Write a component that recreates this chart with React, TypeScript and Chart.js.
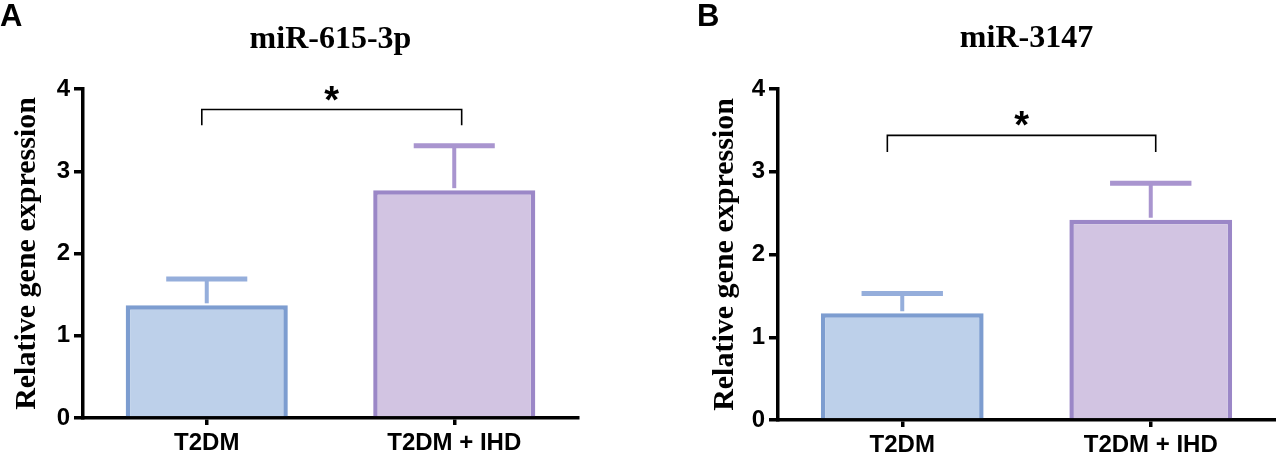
import { useEffect, useRef } from "react";
import { Chart, registerables, type Plugin } from "chart.js";

Chart.register(...registerables);

// ── Data ────────────────────────────────────────────────────────────────────
const groups = ["T2DM", "T2DM + IHD"];
const yTicks = [0, 1, 2, 3, 4];

const mean615 = [1.37, 2.77];
const sem615 = [0.32, 0.54];
const bracket615 = [3.75, 3.56]; // bar level, leg end
const bracketX615 = [-0.02, 1.03]; // category positions of the legs

const mean3147 = [1.29, 2.42];
const sem3147 = [0.24, 0.44];
const bracket3147 = [3.44, 3.24];
const bracketX3147 = [-0.06, 1.02];

// ── Styling ─────────────────────────────────────────────────────────────────
const FILL = ["#bdd0ea", "#d2c4e2"];
const EDGE = ["#7d9dd0", "#9b87c7"];
const ERR = ["#95aedb", "#a995cf"];
const SANS = "Liberation Sans";
const SERIF = "Liberation Serif";
const H = 457;

interface PanelProps {
  letter: string;
  title: string;
  means: number[];
  sems: number[];
  bracket: number[];
  bracketX: number[];
  left: number;
  width: number;
  axisWidth: number;
  bottom: number;
  padRight: number;
  yTitlePad: number;
  titleBase: number;
}

const annotate: Plugin = {
  id: "annotate",
  afterDatasetsDraw(chart, _args, opts: any) {
    const { ctx } = chart;
    const x = chart.scales.x;
    const y = chart.scales.y;
    const meta = chart.getDatasetMeta(0);
    ctx.save();
    // error bars (upper only)
    opts.means.forEach((m: number, i: number) => {
      const bar: any = meta.data[i];
      const cx = x.getPixelForValue(i);
      const y0 = y.getPixelForValue(m);
      const y1 = y.getPixelForValue(m + opts.sems[i]);
      const half = bar.width / 4;
      ctx.strokeStyle = ERR[i];
      ctx.lineWidth = 4;
      ctx.beginPath();
      ctx.moveTo(cx, y0 - 2);
      ctx.lineTo(cx, y1);
      ctx.stroke();
      ctx.lineWidth = 5;
      ctx.beginPath();
      ctx.moveTo(cx - half, y1);
      ctx.lineTo(cx + half, y1);
      ctx.stroke();
    });
    // significance bracket
    const bx0 = x.getPixelForValue(opts.bracketX[0]);
    const bx1 = x.getPixelForValue(opts.bracketX[1]);
    const by = y.getPixelForValue(opts.bracket[0]);
    const bl = y.getPixelForValue(opts.bracket[1]);
    ctx.strokeStyle = "#000";
    ctx.lineWidth = 1.6;
    ctx.beginPath();
    ctx.moveTo(bx0, bl);
    ctx.lineTo(bx0, by);
    ctx.lineTo(bx1, by);
    ctx.lineTo(bx1, bl);
    ctx.stroke();
    ctx.fillStyle = "#000";
    ctx.font = `bold 38px "${SANS}"`;
    ctx.textAlign = "center";
    ctx.textBaseline = "alphabetic";
    ctx.fillText("*", (bx0 + bx1) / 2, by + 3);
    ctx.restore();
  },
  afterDraw(chart, _args, opts: any) {
    const { ctx, chartArea } = chart;
    ctx.save();
    ctx.fillStyle = "#000";
    ctx.textBaseline = "alphabetic";
    ctx.textAlign = "center";
    ctx.font = `bold 32px "${SERIF}"`;
    ctx.fillText(opts.title, (chartArea.left + chartArea.right) / 2, opts.titleBase);
    ctx.textAlign = "left";
    ctx.font = `bold 31px "${SANS}"`;
    ctx.fillText(opts.letter, opts.letterX, 26);
    ctx.restore();
  },
};

function Panel(p: PanelProps) {
  const canvasRef = useRef<HTMLCanvasElement>(null);

  useEffect(() => {
    const canvas = canvasRef.current;
    if (!canvas) return;
    const tickFont = { family: SANS, size: 24, weight: "bold" as const };

    const chart = new Chart(canvas, {
      type: "bar",
      plugins: [annotate],
      data: {
        labels: groups,
        datasets: [
          {
            data: p.means,
            backgroundColor: FILL,
            borderColor: EDGE,
            borderWidth: 4.5,
            borderSkipped: "start",
            categoryPercentage: 1,
            barPercentage: 0.655,
          },
        ],
      },
      options: {
        responsive: false,
        animation: false,
        events: [],
        layout: { padding: { left: 0, right: p.padRight, top: 89, bottom: 0 } },
        plugins: {
          legend: { display: false },
          tooltip: { enabled: false },
          annotate: {
            means: p.means,
            sems: p.sems,
            bracket: p.bracket,
            bracketX: p.bracketX,
            title: p.title,
            letter: p.letter,
            letterX: p.left === 0 ? 0 : 7,
            titleBase: p.titleBase,
          },
        } as any,
        scales: {
          x: {
            type: "category",
            offset: true,
            z: 1,
            grid: {
              offset: false,
              drawOnChartArea: false,
              drawTicks: true,
              tickLength: 7,
              color: "#000",
              lineWidth: 3.5,
            },
            border: { display: true, color: "#000", width: 3.5 },
            ticks: { color: "#000", font: { family: SANS, size: 24, weight: "bold" }, padding: 4 },
            afterFit: (s: any) => { s.height = H - p.bottom; },
          },
          y: {
            min: 0,
            max: 4,
            z: 1,
            afterBuildTicks: (s: any) => { s.ticks = yTicks.map((v) => ({ value: v })); },
            grid: {
              drawOnChartArea: false,
              drawTicks: true,
              tickLength: 9,
              color: "#000",
              lineWidth: 3.5,
            },
            border: { display: true, color: "#000", width: 3.5 },
            ticks: { color: "#000", font: tickFont, padding: 4 },
            title: {
              display: true,
              text: "Relative gene expression",
              color: "#000",
              font: { family: SERIF, size: 30, weight: "bold", lineHeight: 1 },
              padding: { top: p.yTitlePad, bottom: 0 },
            },
            afterFit: (s: any) => { s.width = p.axisWidth; },
          },
        },
      },
    });

    return () => { chart.destroy(); };
  }, []); // eslint-disable-line react-hooks/exhaustive-deps

  return (
    <div style={{ position: "absolute", left: p.left, top: 0, width: p.width, height: H }}>
      <canvas ref={canvasRef} width={p.width} height={H} style={{ display: "block", width: p.width, height: H }} />
    </div>
  );
}

export default function App() {
  return (
    <div style={{ position: "absolute", left: 0, top: 0, width: 1276, height: H, background: "#fff", overflow: "hidden" }}>
      <Panel
        letter="A"
        title="miR-615-3p"
        means={mean615}
        sems={sem615}
        bracket={bracket615}
        bracketX={bracketX615}
        left={0}
        width={600}
        axisWidth={83}
        bottom={418}
        padRight={22}
        yTitlePad={12}
        titleBase={48}
      />
      <Panel
        letter="B"
        title="miR-3147"
        means={mean3147}
        sems={sem3147}
        bracket={bracket3147}
        bracketX={bracketX3147}
        left={690}
        width={586}
        axisWidth={88}
        bottom={420}
        padRight={1}
        yTitlePad={20}
        titleBase={47}
      />
    </div>
  );
}
